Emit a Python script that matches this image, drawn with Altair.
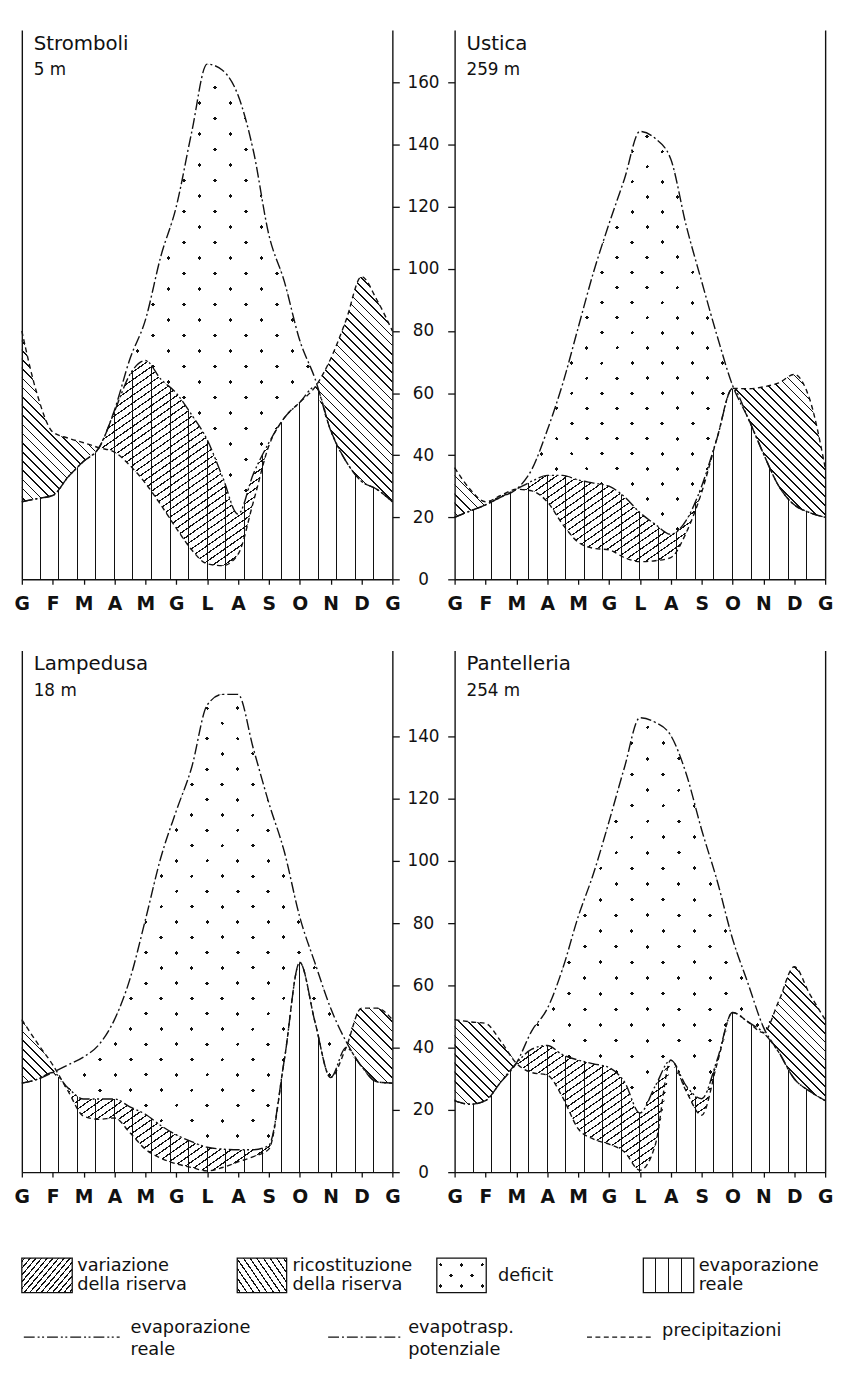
import math
import altair as alt
import pandas as pd

# ---------------- data ----------------
MONTH_LETTERS = ["G", "F", "M", "A", "M", "G", "L", "A", "S", "O", "N", "D", "G"]
MONTH_POS = [i * 0.5 for i in range(25)]  # half-month steps, Jan -> Jan

STATIONS = ["Stromboli", "Ustica", "Lampedusa", "Pantelleria"]
ELEVATIONS = ["5 m", "259 m", "18 m", "254 m"]

# precipitazioni (P), evapotraspirazione potenziale (PE), evaporazione reale (AE), mm
STROMBOLI_P = [80, 59.5, 47.5, 45.5, 44, 42.4, 41, 36.7, 31, 24, 16.5, 9.5, 5, 4.4, 8, 25, 43, 52, 57, 62, 71, 83.5, 97.5, 90, 80]
STROMBOLI_PE = [25, 26, 27, 33, 38, 42.4, 54.5, 71, 83.5, 104, 120, 144, 166, 164, 156, 138, 111, 96, 77, 64.5, 48, 38, 31.6, 29, 25]
STROMBOLI_AE = [25, 26, 27, 33, 38, 42.4, 54, 66, 70.5, 64.5, 60, 53, 45, 33, 21, 34, 44, 52, 57, 62, 48, 38, 31.6, 29, 25]

USTICA_P = [36, 29, 25, 27, 29, 28.5, 25, 17.7, 12, 10, 9.5, 7, 5.7, 6, 7, 15, 28, 45.5, 61.5, 61.4, 62, 63.3, 66, 58, 36]
USTICA_PE = [20, 22, 24, 26.5, 29, 35.4, 48, 63, 81, 99, 114.5, 129, 144.3, 142, 135.4, 114, 96, 78.5, 62.5, 52, 40.5, 30, 24, 21.5, 20]
USTICA_AE = [20, 22, 24, 26.5, 29, 31.6, 33.5, 33.5, 32, 31, 30, 26.6, 21.5, 17.7, 14.5, 19, 30, 45.5, 61.5, 52, 40.5, 30, 24, 21.5, 20]

LAMPEDUSA_P = [49, 41.5, 34.5, 26, 18, 17, 17.4, 12.7, 7.4, 4.5, 2.7, 1.5, 0.4, 1.5, 3.3, 5, 7.4, 36, 67.4, 48, 30.4, 40, 52.7, 52.7, 49]
LAMPEDUSA_PE = [28.6, 29.8, 32, 34.5, 37, 41, 49, 62, 81, 101, 116, 130, 150, 153.5, 153.5, 136, 118.6, 103, 82, 67, 52.7, 42, 34, 29, 28.6]
LAMPEDUSA_AE = [28.6, 29.8, 32, 27, 23.5, 23.5, 23.5, 21, 18.6, 15, 12, 9.8, 8, 7.4, 7.2, 7.2, 8.6, 36, 67.4, 48, 30.4, 40, 34, 29, 28.6]

PANTELLERIA_P = [49, 48.3, 47.8, 42, 35, 32, 31.2, 24, 14, 10.6, 9, 6.5, 0.6, 8.8, 36, 26, 18.3, 34.8, 51.3, 48.3, 44.8, 55, 66, 57.2, 49]
PANTELLERIA_PE = [23, 21.8, 23, 29, 35, 45.4, 52.5, 65.4, 82, 96, 112.6, 130, 146, 144.5, 140.3, 128, 110, 93.7, 75, 60.7, 46.6, 38.5, 30, 26, 23]
PANTELLERIA_AE = [23, 21.8, 23, 29, 35, 39.5, 40.7, 37.7, 36, 34.8, 33.6, 29, 19, 27.7, 36, 27.7, 23.6, 36, 51.3, 48.3, 44.8, 38.5, 30, 26, 23]

TOP_TICKS = [0, 20, 40, 60, 80, 100, 120, 140, 160]
BOTTOM_TICKS = [0, 20, 40, 60, 80, 100, 120, 140]

LEGEND_BOX_LABELS = [["variazione", "della riserva"], ["ricostituzione", "della riserva"], ["deficit"], ["evaporazione", "reale"]]
LEGEND_LINE_LABELS = [["evaporazione", "reale"], ["evapotrasp.", "potenziale"], ["precipitazioni"]]

# ---------------- style / layout ----------------
INK = "#111111"
CLEAR = "rgba(255,255,255,0)"
PANEL_W = 375
TOP_H, TOP_YMAX = 556, 177
BOT_H, BOT_YMAX = 528, 167.6
FONT = "DejaVu Sans"
LEG_FONT = "DejaVu Sans"
DASH_P = [5, 3.5]
DASH_PE = [11, 3, 2, 3]
DASH_AE = [11, 3, 2, 2.5, 2, 3]
MONTH_EXPR = "[" + ",".join("'%s'" % c for c in MONTH_LETTERS) + "][datum.value]"


def grad(x1, y1, x2, y2, centers, f, band, bg):
    stops = [{"offset": 0, "color": bg}]
    for c in centers:
        lo = round(max(0.0, c - f / 2), 5)
        hi = round(min(1.0, c + f / 2), 5)
        stops += [{"offset": lo, "color": bg}, {"offset": lo, "color": band},
                  {"offset": hi, "color": band}, {"offset": hi, "color": bg}]
    stops.append({"offset": 1, "color": bg})
    return {"gradient": "linear", "x1": x1, "y1": y1, "x2": x2, "y2": y2, "stops": stops}


def diag(w, h, theta, spacing, width, band, bg, slash=True):
    th = math.radians(theta)
    A = max(w, 1.0) * math.sin(th)
    B = max(h, 1.0) * math.cos(th)
    s = (A + B) / (A * A + B * B)
    a, b = s * A, s * B
    L = A + B
    n = max(1, round(L / spacing))
    centers = [(k + 0.5) / n for k in range(n)]
    f = min(width / L, 0.5 / n)
    if slash:
        return grad(0, 0, round(a, 5), round(b, 5), centers, f, band, bg)
    return grad(0, 1, round(a, 5), round(1 - b, 5), centers, f, band, bg)


def vstripes(w, n, width, edges=True):
    centers = [k / n for k in range(n + 1)] if edges else [k / n for k in range(1, n)]
    return grad(0, 0, 1, 0, centers, width / max(w, 1.0), INK, CLEAR)


def segments(top, bot, thr=0.25):
    n = len(top)
    pos = [(t - b) > thr for t, b in zip(top, bot)]
    out, i = [], 0
    while i < n:
        if pos[i]:
            j = i
            while j + 1 < n and pos[j + 1]:
                j += 1
            out.append((max(i - 1, 0), min(j + 1, n - 1)))
            i = j + 1
        else:
            i += 1
    return out


def panel(idx, P, PE, AE, ymax, height, ticks, is_left):
    px_x = PANEL_W / 12.0
    px_y = height / ymax
    df = pd.DataFrame({"m": MONTH_POS, "P": P, "PE": PE, "AE": AE})
    df["lo"] = df[["P", "AE"]].min(axis=1)
    df["hi"] = df[["P", "AE"]].max(axis=1)

    xs = alt.Scale(domain=[0, 12], nice=False, zero=False)
    ys = alt.Scale(domain=[0, ymax], nice=False, zero=True)
    X = alt.X("m:Q", scale=xs, title=None,
              axis=alt.Axis(values=list(range(13)), labelExpr=MONTH_EXPR, tickSize=5,
                            labelPadding=20, labelBaseline="middle", labelFlush=False,
                            labelOverlap=False, labelFont=FONT, labelFontSize=19,
                            labelFontWeight="bold", grid=False))
    label_axis = dict(values=ticks, tickSize=7, labelPadding=24, labelAlign="center",
                      labelBaseline="middle", labelFont=FONT, labelFontSize=17, grid=False,
                      labelFlush=False)
    if is_left:
        left_axis = alt.Axis(orient="left", ticks=False, labels=False, grid=False)
        right_axis = alt.Axis(orient="right", **label_axis)
    else:
        left_axis = alt.Axis(orient="left", values=ticks, tickSize=7, labels=False, grid=False)
        right_axis = alt.Axis(orient="right", ticks=False, labels=False, grid=False)

    def Y(field, axis=None):
        return alt.Y(field + ":Q", scale=ys, title=None, axis=axis)

    layers = []
    # evaporazione reale: vertical lines from 0 to AE
    layers.append(alt.Chart(df).mark_area(interpolate="monotone", fill=vstripes(PANEL_W, 20, 1.0))
                  .encode(x=X, y=Y("AE", left_axis)))

    def seg_layers(top_col, bot_col, kind):
        out = []
        for a, b in segments(list(df[top_col]), list(df[bot_col])):
            sub = df.iloc[a:b + 1]
            w = (sub["m"].max() - sub["m"].min()) * px_x
            h = (sub[top_col].max() - sub[bot_col].min()) * px_y
            if kind == "use":
                fills = [diag(w, h, 35, 6.5, 1.2, INK, CLEAR, slash=True)]
            elif kind == "rech":
                fills = [diag(w, h, 45, 6.5, 1.2, INK, CLEAR, slash=False)]
            else:
                fills = [diag(w, h, 45, 21.9, 2.8, INK, CLEAR, slash=True),
                         diag(w, h, 45, 21.9, 2.8, CLEAR, "white", slash=False)]
            for fl in fills:
                out.append(alt.Chart(sub).mark_area(interpolate="monotone", fill=fl)
                           .encode(x=X, y=Y(top_col), y2=alt.Y2(bot_col + ":Q")))
        return out

    layers += seg_layers("AE", "lo", "use")       # variazione della riserva
    layers += seg_layers("hi", "AE", "rech")      # ricostituzione della riserva
    layers += seg_layers("PE", "AE", "def")       # deficit

    layers.append(alt.Chart(df).mark_line(interpolate="monotone", color=INK, strokeWidth=1.4,
                                          strokeDash=DASH_P)
                  .encode(x=X, y=Y("P", right_axis)))
    layers.append(alt.Chart(df).mark_line(interpolate="monotone", color=INK, strokeWidth=1.4,
                                          strokeDash=DASH_PE)
                  .encode(x=X, y=Y("PE")))
    layers.append(alt.Chart(df).mark_line(interpolate="monotone", color=INK, strokeWidth=1.4,
                                          strokeDash=DASH_AE)
                  .encode(x=X, y=Y("AE")))

    layers.append(alt.Chart(pd.DataFrame({"t": [STATIONS[idx]]}))
                  .mark_text(align="left", baseline="middle", font=FONT, fontSize=20, color=INK)
                  .encode(x=alt.value(12), y=alt.value(14), text="t:N"))
    layers.append(alt.Chart(pd.DataFrame({"t": [ELEVATIONS[idx]]}))
                  .mark_text(align="left", baseline="middle", font=FONT, fontSize=17, color=INK)
                  .encode(x=alt.value(12), y=alt.value(41), text="t:N"))

    return (alt.layer(*layers)
            .properties(width=PANEL_W, height=height)
            .resolve_axis(y="independent"))


p1 = panel(0, STROMBOLI_P, STROMBOLI_PE, STROMBOLI_AE, TOP_YMAX, TOP_H, TOP_TICKS, True)
p2 = panel(1, USTICA_P, USTICA_PE, USTICA_AE, TOP_YMAX, TOP_H, TOP_TICKS, False)
p3 = panel(2, LAMPEDUSA_P, LAMPEDUSA_PE, LAMPEDUSA_AE, BOT_YMAX, BOT_H, BOTTOM_TICKS, True)
p4 = panel(3, PANTELLERIA_P, PANTELLERIA_PE, PANTELLERIA_AE, BOT_YMAX, BOT_H, BOTTOM_TICKS, False)

# ---------------- legend ----------------
LEG_W, LEG_H = 813, 118
lx = alt.Scale(domain=[0, LEG_W], nice=False, zero=False)
ly = alt.Scale(domain=[0, LEG_H], nice=False, zero=False, reverse=True)
BOX_LAYOUT = [(0, 51), (218, 268), (420, 470), (629, 680)]
BOX_Y = (15, 50)
BOX_TEXT_X = [56, 274, 482, 685]
LINE_LAYOUT = [(2, 99), (310, 383), (572, 637)]
LINE_Y = 95
LINE_TEXT_X = [110, 391, 648]

leg_layers = []
boxes = pd.DataFrame({"x0": [b[0] for b in BOX_LAYOUT], "x1": [b[1] for b in BOX_LAYOUT],
                      "y0": [BOX_Y[0]] * 4, "y1": [BOX_Y[1]] * 4})
bw, bh = 51, BOX_Y[1] - BOX_Y[0]
box_fills = [
    [diag(bw, bh, 50, 4.5, 1.2, INK, CLEAR, slash=True)],
    [diag(bw, bh, 55, 5.5, 1.2, INK, CLEAR, slash=False)],
    [diag(bw, bh, 45, 17, 2.6, INK, CLEAR, slash=True), diag(bw, bh, 45, 17, 2.6, CLEAR, "white", slash=False)],
    [vstripes(bw, 4, 1.0, edges=False)],
]
LX = lambda f: alt.X(f + ":Q", scale=lx, axis=None)
LY = lambda f: alt.Y(f + ":Q", scale=ly, axis=None)
for i, fills in enumerate(box_fills):
    for fl in fills:
        leg_layers.append(alt.Chart(boxes.iloc[[i]]).mark_rect(fill=fl)
                          .encode(x=LX("x0"), x2="x1", y=LY("y0"), y2="y1"))
leg_layers.append(alt.Chart(boxes).mark_rect(fillOpacity=0, stroke=INK, strokeWidth=1.3)
                  .encode(x=LX("x0"), x2="x1", y=LY("y0"), y2="y1"))

for dash, (a, b) in zip([DASH_AE, DASH_PE, DASH_P], LINE_LAYOUT):
    leg_layers.append(alt.Chart(pd.DataFrame({"a": [a], "b": [b], "y": [LINE_Y]}))
                      .mark_rule(color=INK, strokeWidth=1.4, strokeDash=dash)
                      .encode(x=LX("a"), x2="b", y=LY("y")))

rows = []
for labels, x in zip(LEGEND_BOX_LABELS, BOX_TEXT_X):
    ys_ = [33] if len(labels) == 1 else [23.5, 42.5]
    for lab, yy in zip(labels, ys_):
        rows.append({"label": lab, "x": x, "y": yy})
for labels, x in zip(LEGEND_LINE_LABELS, LINE_TEXT_X):
    ys_ = [89] if len(labels) == 1 else [86, 108]
    for lab, yy in zip(labels, ys_):
        rows.append({"label": lab, "x": x, "y": yy})
leg_layers.append(alt.Chart(pd.DataFrame(rows))
                  .mark_text(align="left", baseline="middle", font=LEG_FONT, fontSize=18, color=INK)
                  .encode(x=LX("x"), y=LY("y"), text="label:N"))

legend = alt.layer(*leg_layers).properties(width=LEG_W, height=LEG_H)

top = alt.hconcat(p1, p2, spacing=63, bounds="flush")
bottom = alt.hconcat(p3, p4, spacing=63, bounds="flush")
chart = (alt.vconcat(top, bottom, legend, spacing=37)
         .properties(padding={"left": 6, "top": 14, "right": 4, "bottom": 0})
         .configure_view(stroke=None)
         .configure_axis(domainColor=INK, tickColor=INK, labelColor=INK,
                         domainWidth=1.4, tickWidth=1.3))

chart.save("out.html", embed_options={"renderer": "svg", "actions": False})
